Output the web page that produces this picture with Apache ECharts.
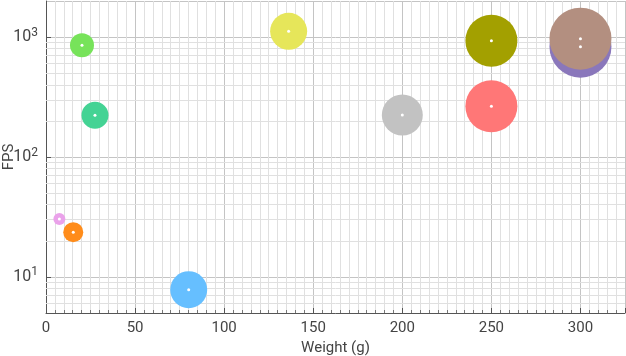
<!DOCTYPE html>
<html>
<head>
<meta charset="utf-8">
<script src="https://cdn.jsdelivr.net/npm/echarts@6/dist/echarts.min.js"></script>
<style>
  html, body { margin: 0; padding: 0; background: #fff; }
  #chart { width: 626px; height: 356px; }
</style>
</head>
<body>
<div id="chart"></div>
<script>
  // bubble data: weight (g), fps, bubble diameter
  const weights = [20.2, 27.5, 136.2, 250, 200, 250, 300, 300, 7.5, 15.3, 80.1]
  const fps = [855, 223, 1118, 933, 224, 265, 832, 970, 30.4, 23.6, 7.82]
  const bubbleSize = [24, 27, 37, 52, 41, 52, 62, 62, 12, 20, 37]
  const colors = ['#77e35a', '#44d394', '#e6e65a', '#a3a000', '#c2c2c2', '#ff7777',
    '#8a77bb', '#b38f80', '#eaa2ea', '#ff8c1a', '#66bfff']

  // log minor grid values
  const yMinorTicks = [6, 7, 8, 9, 20, 30, 40, 50, 60, 70, 80, 90,
    200, 300, 400, 500, 600, 700, 800, 900]

  const points = weights.map((w, i) => [w, fps[i], bubbleSize[i]])

  let chart = echarts.init(document.getElementById('chart'))
  chart.setOption({
    animation: false,
    textStyle: { fontFamily: 'Roboto' },
    grid: { left: 46, right: 1, top: 1, bottom: 43, containLabel: false, outerBoundsMode: 'none' },
    xAxis: {
      type: 'value',
      min: 0,
      max: 325,
      interval: 50,
      name: 'Weight (g)',
      nameLocation: 'middle',
      nameGap: 28,
      nameMoveOverlap: false,
      nameTextStyle: { fontSize: 15, color: '#444' },
      axisLine: { lineStyle: { color: '#555' } },
      axisTick: { inside: true, length: 5, lineStyle: { color: '#555' } },
      minorTick: { show: true, splitNumber: 10, length: 3, lineStyle: { color: '#777' } },
      axisLabel: { fontSize: 15, color: '#444', margin: 8, showMaxLabel: false },
      splitLine: { show: true, lineStyle: { color: '#c4c4c4' } },
      minorSplitLine: { show: true, lineStyle: { color: '#e0e0e0' } }
    },
    yAxis: {
      type: 'log',
      logBase: 10,
      min: 5,
      max: 2000,
      name: 'FPS',
      nameLocation: 'middle',
      nameGap: 29,
      nameMoveOverlap: false,
      nameTextStyle: { fontSize: 15, color: '#444' },
      axisLine: { show: true, lineStyle: { color: '#555' } },
      axisTick: { show: true, inside: true, length: 5, lineStyle: { color: '#555' } },
      axisLabel: {
        color: '#444',
        margin: 8,
        showMinLabel: false,
        showMaxLabel: false,
        formatter: function (v) {
          return '{b|10}{s|' + Math.round(Math.log10(v)) + '}'
        },
        rich: {
          b: { fontSize: 16, color: '#444' },
          s: { fontSize: 12, color: '#444', padding: [0, 0, 9, 0] }
        }
      },
      splitLine: { show: true, lineStyle: { color: '#c4c4c4' } }
    },
    series: [
      {
        type: 'line',
        data: [],
        z: 1,
        silent: true,
        markLine: {
          silent: true,
          z: 1,
          symbol: 'none',
          label: { show: false },
          lineStyle: { color: '#e0e0e0', width: 1, type: 'solid' },
          data: yMinorTicks.map(v => ({ yAxis: v }))
        }
      },
      {
        type: 'scatter',
        data: points,
        symbolSize: function (d) { return d[2] },
        itemStyle: {
          opacity: 1,
          color: function (p) { return colors[p.dataIndex] }
        },
        z: 3
      },
      {
        type: 'scatter',
        data: points,
        symbolSize: 3,
        itemStyle: { color: '#fff', opacity: 1 },
        z: 4
      }
    ]
  })
</script>
</body>
</html>
